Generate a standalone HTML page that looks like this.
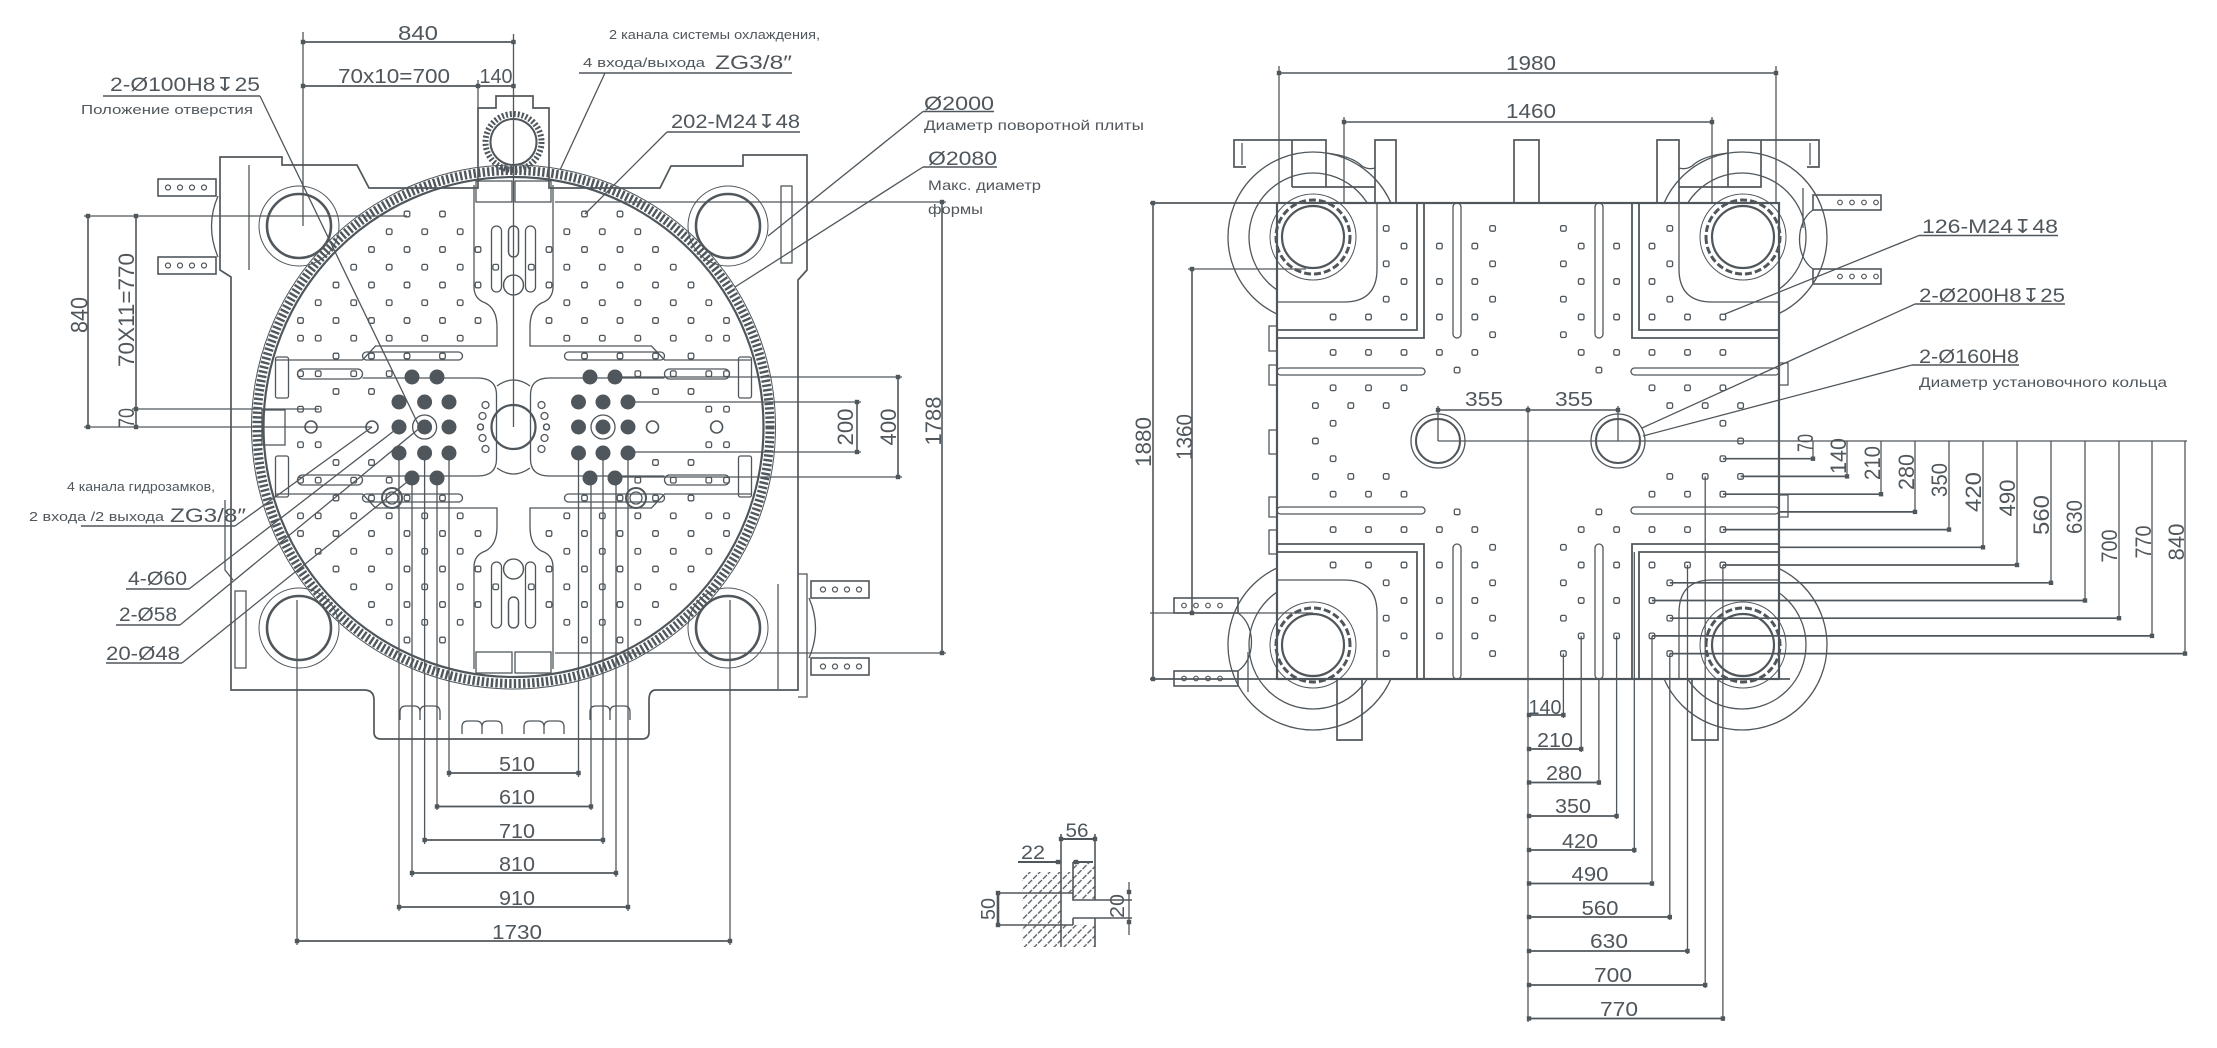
<!DOCTYPE html>
<html><head><meta charset="utf-8">
<style>
html,body{margin:0;padding:0;background:#fff;width:2217px;height:1048px;overflow:hidden}
svg{display:block}
text{fill:#50575c;stroke:none;font-family:"Liberation Sans","DejaVu Sans",sans-serif}
</style></head>
<body>
<svg width="2217" height="1048" viewBox="0 0 2217 1048">
<defs>
 <pattern id="hatch" width="7" height="7" patternUnits="userSpaceOnUse" patternTransform="rotate(45)">
  <line x1="1" y1="0" x2="1" y2="7" stroke="#50575c" stroke-width="1.3" stroke-dasharray="3 1.5"/>
 </pattern>
 <clipPath id="outR"><path clip-rule="evenodd" d="M1100,0H2217V1048H1100Z M1277,203H1779V679H1277Z"/></clipPath>
 <g id="qL">
  <path d="M-39.5,-242V-140Q-39.5,-128 -28,-124Q-16.5,-118 -16.5,-100V-81H-138L-151,-67H-238"/>
  <path d="M-151,-49H-36Q-17,-49 -17,-32V0"/>
  <rect x="-151" y="-75" width="100" height="8" rx="4"/>
  <rect x="-216" y="-58" width="65" height="10" rx="5"/>
  <rect x="-238" y="-70" width="13" height="41" rx="2"/>
  <rect x="-22" y="-201" width="10" height="66" rx="5"/>
  <rect x="-5" y="-201" width="10" height="31" rx="5"/>
  <rect x="-37.5" y="-246" width="36" height="21"/>
  <circle cx="0" cy="-142" r="10"/>
  <circle cx="-28" cy="-22" r="3.5"/><circle cx="-31" cy="-11" r="3.5"/><circle cx="-33" cy="0" r="3"/>
 </g>
 <g id="qR">
  <path d="M-111,-238V-111H-251M-104,-238V-103H-251" stroke-width="1.8"/>
  <path d="M-151,-238V-172Q-151,-139 -184,-139H-251"/>
  <rect x="-75" y="-238" width="8" height="135" rx="4"/>
  <rect x="-251" y="-73" width="148" height="7" rx="3.5"/>
  <circle cx="-215" cy="-204" r="31" stroke-width="2.2"/>
  <circle cx="-215" cy="-204" r="37" stroke-width="3" stroke-dasharray="7 3"/>
  <circle cx="-215" cy="-204" r="43" stroke-width="1"/>
 </g>
</defs>
<rect width="2217" height="1048" fill="#fff"/>

<g stroke="#50575c" fill="none" stroke-width="1.3">

<!-- ================= LEFT DRAWING ================= -->
<path stroke-width="1.7" d="M220,157H282V165H357L369,188H478V108H496V96H533V108H549V188H660L671,166H743V155H807V270L798,280V690H656Q649,690 649,700V732Q649,739 642,739H381Q374,739 374,732V700Q374,690 364,690H231V277L220,270Z"/>
<path d="M798,574H807V697H798 M218,196Q205,226 218,257 M809,598Q822,628 809,658"/>
<path d="M249,165V270M778,584V689M225,500V570L233,580"/>
<rect x="235" y="591" width="11" height="77"/><rect x="781" y="186" width="11" height="77"/>
<rect x="158" y="179" width="58" height="17" stroke-width="1.6"/>
<rect x="158" y="257" width="58" height="17" stroke-width="1.6"/>
<rect x="811" y="658" width="58" height="17" stroke-width="1.6"/>
<rect x="811" y="581" width="58" height="17" stroke-width="1.6"/>
<g stroke-width="1.2">
<circle cx="168" cy="187.5" r="2.5"/><circle cx="180" cy="187.5" r="2.5"/><circle cx="192" cy="187.5" r="2.5"/><circle cx="204" cy="187.5" r="2.5"/>
<circle cx="168" cy="265.5" r="2.5"/><circle cx="180" cy="265.5" r="2.5"/><circle cx="192" cy="265.5" r="2.5"/><circle cx="204" cy="265.5" r="2.5"/>
<circle cx="823" cy="666.5" r="2.5"/><circle cx="835" cy="666.5" r="2.5"/><circle cx="847" cy="666.5" r="2.5"/><circle cx="859" cy="666.5" r="2.5"/>
<circle cx="823" cy="589.5" r="2.5"/><circle cx="835" cy="589.5" r="2.5"/><circle cx="847" cy="589.5" r="2.5"/><circle cx="859" cy="589.5" r="2.5"/>
</g>
<!-- housing gear -->
<circle cx="513.5" cy="142" r="23" stroke-width="2"/>
<circle cx="513.5" cy="142" r="28" stroke-width="6" stroke-dasharray="2 2"/>
<!-- tie bars -->
<circle cx="299" cy="226" r="32" stroke-width="2.6"/><circle cx="299" cy="226" r="40" stroke-width="1"/>
<circle cx="728" cy="226" r="32" stroke-width="2.6"/><circle cx="728" cy="226" r="40" stroke-width="1"/>
<circle cx="299" cy="628" r="32" stroke-width="2.6"/><circle cx="299" cy="628" r="40" stroke-width="1"/>
<circle cx="728" cy="628" r="32" stroke-width="2.6"/><circle cx="728" cy="628" r="40" stroke-width="1"/>
<!-- plate -->
<circle cx="513.5" cy="427" r="250" stroke-width="2.2"/>
<circle cx="513.5" cy="427" r="256.5" stroke-width="9" stroke-dasharray="2.4 2.2"/>
<circle cx="513.5" cy="427" r="262" stroke-width="1"/>
<use href="#qL" transform="translate(513.5,427)"/>
<use href="#qL" transform="translate(513.5,427) scale(-1,1)"/>
<use href="#qL" transform="translate(513.5,427) scale(1,-1)"/>
<use href="#qL" transform="translate(513.5,427) scale(-1,-1)"/>
<circle cx="513.5" cy="427" r="22" stroke-width="2.2"/>
<path d="M497,386Q513.5,374 530,386M497,468Q513.5,480 530,468"/>
<rect x="262" y="410" width="23" height="35"/>
<circle cx="424.6" cy="427" r="12"/><circle cx="603" cy="427" r="12"/>
<circle cx="392" cy="498" r="10" stroke-width="2"/><circle cx="392" cy="498" r="6"/>
<circle cx="636" cy="498" r="10" stroke-width="2"/><circle cx="636" cy="498" r="6"/>
<circle cx="311" cy="427" r="6" stroke-width="1.6"/><circle cx="372" cy="427" r="6" stroke-width="1.6"/>
<circle cx="652.5" cy="427" r="6" stroke-width="1.6"/><circle cx="716.6" cy="427" r="6" stroke-width="1.6"/>
<!-- bottom tab symbols -->
<path d="M400,720v-8q0-6 6-6h8q6,0 6,6v8M420,720v-8q0-6 6-6h8q6,0 6,6v8 M462,734v-7q0-6 6-6h8q6,0 6,6v7M482,734v-7q0-6 6-6h8q6,0 6,6v7 M524,734v-7q0-6 6-6h8q6,0 6,6v7M544,734v-7q0-6 6-6h8q6,0 6,6v7 M590,720v-8q0-6 6-6h8q6,0 6,6v8M610,720v-8q0-6 6-6h8q6,0 6,6v8"/>

<!-- left dims -->
<path stroke-width="1.8" d="M303,42H513.5 M303,86H513.5"/>
<path d="M303,32V226 M513.5,34V427 M478,80V108"/>
<path stroke-width="1.6" d="M88,216V427 M136,216V427"/>
<path d="M84,216H407 M132,409H319 M84,427H372"/>
<path stroke-width="1.6" d="M942,202V653 M898,377V477 M857,402V452"/>
<path d="M555,202H946 M555,653H946 M615,377H902 M616,477H902 M628,402H861 M628,452H861"/>
<path stroke-width="1.8" d="M449,773H578.5 M437,806.5H591 M424.6,840H603 M412,873H616 M399,907H628 M297,941H730"/>
<path d="M449,453V777 M578.5,453V777 M437,478V810 M591,478V810 M424.6,453V844 M603,453V844 M412,478V877 M616,478V877 M399,453V911 M628,453V911 M297,600V945 M730,600V945"/>
<!-- left label underlines & leaders -->
<path stroke-width="1.6" d="M103,96H260 M579,73H792 M667,132H800 M923,111.5H994 M923,167H997 M81,526H235 M126,589H189 M116,625H180 M106,663H182"/>
<path d="M260,96L419,426 M605,73L560,170 M667,132L585,214 M923,111.5L768,236 M923,167L735,287 M235,526L372,427 M189,589L399,427 M180,625L421,427 M182,663L412,478"/>

<!-- section detail -->
<rect x="1022" y="872" width="39" height="75" fill="url(#hatch)" stroke="none"/>
<rect x="1061" y="872" width="12" height="21" fill="url(#hatch)" stroke="none"/>
<rect x="1073" y="862" width="22" height="38" fill="url(#hatch)" stroke="none"/>
<rect x="1061" y="925" width="34" height="22" fill="url(#hatch)" stroke="none"/>
<path stroke-width="2" d="M1061,839H1095 M1018,862H1061 M1073,862H1093"/>
<path stroke-width="1.6" d="M1061,834V947 M1095,834V900 M1095,918V947 M1073,862V900H1132 M1073,918H1132 M1073,918V925 M997,893H1073 M997,925H1073"/>
<path stroke-width="2.6" d="M998,893V925"/>
<path d="M1129,882V935"/>

<!-- ================= RIGHT DRAWING ================= -->
<g clip-path="url(#outR)">
 <circle cx="1313" cy="237" r="85"/><circle cx="1313" cy="237" r="64"/>
 <circle cx="1742" cy="237" r="85"/><circle cx="1742" cy="237" r="64"/>
 <circle cx="1313" cy="645" r="85"/><circle cx="1313" cy="645" r="64"/>
 <circle cx="1742" cy="645" r="85"/><circle cx="1742" cy="645" r="64"/>
</g>
<rect x="1277" y="203" width="502" height="476" stroke-width="2.2"/>
<path stroke-width="1.8" d="M1150,203H1277 M1150,679H1277 M1779,679H1790"/>
<use href="#qR" transform="translate(1528,441)"/>
<use href="#qR" transform="translate(1528,441) scale(-1,1)"/>
<use href="#qR" transform="translate(1528,441) scale(1,-1)"/>
<use href="#qR" transform="translate(1528,441) scale(-1,-1)"/>
<!-- top posts / ears -->
<path stroke-width="1.7" d="M1292,187V140H1234V167H1246 M1292,187H1326V140H1292 M1326,187H1375 M1375,203V140H1396V203 M1514,203V140H1539V203 M1657,203V140H1679V203 M1679,187H1728 M1728,187V140H1761V187H1728 M1761,140H1819V167H1807"/>
<path d="M1242,143V165 M1810,143V165 M1326,153Q1352,156 1362,166Q1368,170 1375,168 M1728,153Q1702,156 1692,166Q1686,170 1679,168"/>
<path stroke-width="1.7" d="M1337,679V740H1362V679 M1692,679V740H1718V679"/>
<!-- side boxes -->
<rect x="1813" y="195" width="68" height="15" stroke-width="1.6"/>
<rect x="1813" y="269" width="68" height="15" stroke-width="1.6"/>
<rect x="1174" y="598" width="64" height="15" stroke-width="1.6"/>
<rect x="1174" y="671" width="64" height="15" stroke-width="1.6"/>
<path d="M1813,210C1795,222 1795,257 1813,269 M1238,613C1256,625 1256,659 1238,671 M1803,188V228 M1248,652V692"/>
<g stroke-width="1.2">
<circle cx="1840" cy="202.5" r="2.3"/><circle cx="1852" cy="202.5" r="2.3"/><circle cx="1864" cy="202.5" r="2.3"/><circle cx="1876" cy="202.5" r="2.3"/>
<circle cx="1840" cy="276.5" r="2.3"/><circle cx="1852" cy="276.5" r="2.3"/><circle cx="1864" cy="276.5" r="2.3"/><circle cx="1876" cy="276.5" r="2.3"/>
<circle cx="1184" cy="605.5" r="2.3"/><circle cx="1196" cy="605.5" r="2.3"/><circle cx="1208" cy="605.5" r="2.3"/><circle cx="1220" cy="605.5" r="2.3"/>
<circle cx="1184" cy="678.5" r="2.3"/><circle cx="1196" cy="678.5" r="2.3"/><circle cx="1208" cy="678.5" r="2.3"/><circle cx="1220" cy="678.5" r="2.3"/>
</g>
<path d="M1269,326h8v25h-8z M1269,365h8v20h-8z M1269,430h8v24h-8z M1269,497h8v20h-8z M1269,530h8v24h-8z M1779,363h9v22h-9z M1779,495h9v22h-9z"/>
<!-- center holes -->
<circle cx="1438" cy="441" r="22" stroke-width="2"/><circle cx="1438" cy="441" r="27"/>
<circle cx="1618" cy="441" r="22" stroke-width="2"/><circle cx="1618" cy="441" r="27"/>
<path stroke-width="1.6" d="M1438,410H1618"/>
<path d="M1438,406V441 M1618,406V441 M1438,441H2187 M1528,406V1022"/>
<!-- right left dims -->
<path stroke-width="1.6" d="M1153,203V679 M1192,269V613 M1279,73H1776 M1344,122H1712"/>
<path d="M1188,269H1306 M1150,613H1313 M1279,66V203 M1776,66V203 M1344,117V203 M1712,117V203"/>
<!-- right vertical dims -->
<path d="M1813,441V458.7 M1847,441V476.4 M1881,441V494.2 M1915,441V511.9 M1949,441V529.6 M1983,441V547.3 M2017,441V565 M2051,441V582.8 M2085,441V600.5 M2119,441V618.2 M2152,441V635.9 M2185,441V653.6"/>
<path stroke-width="1.7" d="M1723,458.7H1813 M1740.6,476.4H1847 M1723,494.2H1881 M1779,511.9H1915 M1723,529.6H1949 M1779,547.3H1983 M1723,565H2017 M1669.8,582.8H2051 M1652,600.5H2085 M1669.8,618.2H2119 M1652,635.9H2152 M1669.8,653.6H2185"/>
<!-- bottom dims -->
<path stroke-width="1.8" d="M1529,715H1563.4 M1529,749H1581.2 M1529,782.5H1598.9 M1529,816H1616.6 M1529,850H1634.3 M1529,883.5H1652 M1529,917H1669.8 M1529,951H1687.5 M1529,985H1705.2 M1529,1018.5H1722.9"/>
<path d="M1563.4,653.6V718 M1581.2,635.9V752 M1598.9,679V785 M1616.6,635.9V819 M1634.3,552V853 M1652,635.9V886 M1669.8,653.6V920 M1687.5,565V954 M1705.2,476.4V988 M1722.9,565V1021"/>
<!-- right labels -->
<path stroke-width="1.6" d="M1919,235.5H2058 M1915,304H2065 M1912,365H2019"/>
<path d="M1919,235.5L1725,314 M1915,304L1642,428 M1912,365L1643,436"/>

<g id="holes" stroke-width="1.3"></g>
<g id="ticks" fill="#50575c" stroke="none"></g>
</g>

<!-- dark holes -->
<g fill="#50575c">
<circle cx="412" cy="377" r="7.5"/><circle cx="437" cy="377" r="7.5"/>
<circle cx="399" cy="402" r="7.5"/><circle cx="424.6" cy="402" r="7.5"/><circle cx="449" cy="402" r="7.5"/>
<circle cx="399" cy="427" r="7.5"/><circle cx="424.6" cy="427" r="7.5"/><circle cx="449" cy="427" r="7.5"/>
<circle cx="399" cy="453" r="7.5"/><circle cx="424.6" cy="453" r="7.5"/><circle cx="449" cy="453" r="7.5"/>
<circle cx="412" cy="478" r="7.5"/><circle cx="437" cy="478" r="7.5"/>
<circle cx="590" cy="377" r="7.5"/><circle cx="615" cy="377" r="7.5"/>
<circle cx="578.5" cy="402" r="7.5"/><circle cx="603" cy="402" r="7.5"/><circle cx="628" cy="402" r="7.5"/>
<circle cx="578.5" cy="427" r="7.5"/><circle cx="603" cy="427" r="7.5"/><circle cx="628" cy="427" r="7.5"/>
<circle cx="578.5" cy="453" r="7.5"/><circle cx="603" cy="453" r="7.5"/><circle cx="628" cy="453" r="7.5"/>
<circle cx="590" cy="478" r="7.5"/><circle cx="615" cy="478" r="7.5"/>
</g>

<!-- ============ TEXT ============ -->
<g>
<text x="418" y="40" font-size="20" text-anchor="middle" textLength="40" lengthAdjust="spacingAndGlyphs">840</text>
<text x="394" y="83" font-size="20" text-anchor="middle" textLength="112" lengthAdjust="spacingAndGlyphs">70x10=700</text>
<text x="496" y="83" font-size="20" text-anchor="middle" textLength="33" lengthAdjust="spacingAndGlyphs">140</text>
<text x="609" y="39" font-size="13" textLength="211" lengthAdjust="spacingAndGlyphs">2 канала системы охлаждения,</text>
<text x="583" y="67" font-size="13" textLength="122" lengthAdjust="spacingAndGlyphs">4 входа/выхода</text>
<text x="715" y="69" font-size="19" textLength="77" lengthAdjust="spacingAndGlyphs">ZG3/8″</text>
<text x="110" y="91" font-size="19" textLength="150" lengthAdjust="spacingAndGlyphs">2-Ø100H8↧25</text>
<text x="81" y="114" font-size="13" textLength="172" lengthAdjust="spacingAndGlyphs">Положение отверстия</text>
<text x="671" y="128" font-size="19" textLength="129" lengthAdjust="spacingAndGlyphs">202-M24↧48</text>
<text x="924" y="110" font-size="19" textLength="70" lengthAdjust="spacingAndGlyphs">Ø2000</text>
<text x="924" y="130" font-size="14" textLength="220" lengthAdjust="spacingAndGlyphs">Диаметр поворотной плиты</text>
<text x="928" y="165" font-size="19" textLength="69" lengthAdjust="spacingAndGlyphs">Ø2080</text>
<text x="928" y="190" font-size="14" textLength="113" lengthAdjust="spacingAndGlyphs">Макс. диаметр</text>
<text x="928" y="214" font-size="14" textLength="55" lengthAdjust="spacingAndGlyphs">формы</text>

<text transform="translate(87.6,315) rotate(-90)" font-size="24" text-anchor="middle" textLength="36" lengthAdjust="spacingAndGlyphs">840</text>
<text transform="translate(134,310) rotate(-90)" font-size="22" text-anchor="middle" textLength="114" lengthAdjust="spacingAndGlyphs">70X11=770</text>
<text transform="translate(134,418) rotate(-90)" font-size="22" text-anchor="middle" textLength="20" lengthAdjust="spacingAndGlyphs">70</text>
<text transform="translate(853,427) rotate(-90)" font-size="22" text-anchor="middle" textLength="37" lengthAdjust="spacingAndGlyphs">200</text>
<text transform="translate(896,427) rotate(-90)" font-size="22" text-anchor="middle" textLength="37" lengthAdjust="spacingAndGlyphs">400</text>
<text transform="translate(941,421) rotate(-90)" font-size="22" text-anchor="middle" textLength="49" lengthAdjust="spacingAndGlyphs">1788</text>

<text x="67" y="491" font-size="13" textLength="148" lengthAdjust="spacingAndGlyphs">4 канала гидрозамков,</text>
<text x="29" y="521" font-size="13" textLength="135" lengthAdjust="spacingAndGlyphs">2 входа /2 выхода</text>
<text x="170" y="522" font-size="19" textLength="76" lengthAdjust="spacingAndGlyphs">ZG3/8″</text>
<text x="128" y="585" font-size="19" textLength="59" lengthAdjust="spacingAndGlyphs">4-Ø60</text>
<text x="119" y="621" font-size="19" textLength="58" lengthAdjust="spacingAndGlyphs">2-Ø58</text>
<text x="106" y="660" font-size="19" textLength="74" lengthAdjust="spacingAndGlyphs">20-Ø48</text>

<text x="517" y="771" font-size="20" text-anchor="middle" textLength="36" lengthAdjust="spacingAndGlyphs">510</text>
<text x="517" y="804" font-size="20" text-anchor="middle" textLength="36" lengthAdjust="spacingAndGlyphs">610</text>
<text x="517" y="838" font-size="20" text-anchor="middle" textLength="36" lengthAdjust="spacingAndGlyphs">710</text>
<text x="517" y="871" font-size="20" text-anchor="middle" textLength="36" lengthAdjust="spacingAndGlyphs">810</text>
<text x="517" y="905" font-size="20" text-anchor="middle" textLength="36" lengthAdjust="spacingAndGlyphs">910</text>
<text x="517" y="939" font-size="20" text-anchor="middle" textLength="50" lengthAdjust="spacingAndGlyphs">1730</text>

<text x="1077" y="837" font-size="19" text-anchor="middle" textLength="23" lengthAdjust="spacingAndGlyphs">56</text>
<text x="1033" y="859" font-size="19" text-anchor="middle" textLength="24" lengthAdjust="spacingAndGlyphs">22</text>
<text transform="translate(995,909) rotate(-90)" font-size="20" text-anchor="middle" textLength="22" lengthAdjust="spacingAndGlyphs">50</text>
<text transform="translate(1124,906) rotate(-90)" font-size="20" text-anchor="middle" textLength="24" lengthAdjust="spacingAndGlyphs">20</text>

<text x="1531" y="70" font-size="20" text-anchor="middle" textLength="50" lengthAdjust="spacingAndGlyphs">1980</text>
<text x="1531" y="118" font-size="20" text-anchor="middle" textLength="50" lengthAdjust="spacingAndGlyphs">1460</text>
<text transform="translate(1151,442) rotate(-90)" font-size="22" text-anchor="middle" textLength="50" lengthAdjust="spacingAndGlyphs">1880</text>
<text transform="translate(1192,437) rotate(-90)" font-size="22" text-anchor="middle" textLength="46" lengthAdjust="spacingAndGlyphs">1360</text>
<text x="1484" y="406" font-size="20" text-anchor="middle" textLength="38" lengthAdjust="spacingAndGlyphs">355</text>
<text x="1574" y="406" font-size="20" text-anchor="middle" textLength="38" lengthAdjust="spacingAndGlyphs">355</text>
<text x="1922" y="233" font-size="19" textLength="136" lengthAdjust="spacingAndGlyphs">126-M24↧48</text>
<text x="1919" y="302" font-size="19" textLength="146" lengthAdjust="spacingAndGlyphs">2-Ø200H8↧25</text>
<text x="1919" y="363" font-size="19" textLength="100" lengthAdjust="spacingAndGlyphs">2-Ø160H8</text>
<text x="1919" y="387" font-size="14" textLength="248" lengthAdjust="spacingAndGlyphs">Диаметр установочного кольца</text>

<text transform="translate(1813,443) rotate(-90)" font-size="22" text-anchor="middle" textLength="18" lengthAdjust="spacingAndGlyphs">70</text>
<text transform="translate(1846,456) rotate(-90)" font-size="22" text-anchor="middle" textLength="36" lengthAdjust="spacingAndGlyphs">140</text>
<text transform="translate(1880,463) rotate(-90)" font-size="22" text-anchor="middle" textLength="34" lengthAdjust="spacingAndGlyphs">210</text>
<text transform="translate(1914,472) rotate(-90)" font-size="22" text-anchor="middle" textLength="36" lengthAdjust="spacingAndGlyphs">280</text>
<text transform="translate(1947,480) rotate(-90)" font-size="22" text-anchor="middle" textLength="34" lengthAdjust="spacingAndGlyphs">350</text>
<text transform="translate(1981,492) rotate(-90)" font-size="22" text-anchor="middle" textLength="40" lengthAdjust="spacingAndGlyphs">420</text>
<text transform="translate(2015,498) rotate(-90)" font-size="22" text-anchor="middle" textLength="37" lengthAdjust="spacingAndGlyphs">490</text>
<text transform="translate(2049,515) rotate(-90)" font-size="22" text-anchor="middle" textLength="40" lengthAdjust="spacingAndGlyphs">560</text>
<text transform="translate(2082,517) rotate(-90)" font-size="22" text-anchor="middle" textLength="34" lengthAdjust="spacingAndGlyphs">630</text>
<text transform="translate(2117,546) rotate(-90)" font-size="22" text-anchor="middle" textLength="33" lengthAdjust="spacingAndGlyphs">700</text>
<text transform="translate(2151,542) rotate(-90)" font-size="22" text-anchor="middle" textLength="33" lengthAdjust="spacingAndGlyphs">770</text>
<text transform="translate(2184,542) rotate(-90)" font-size="22" text-anchor="middle" textLength="37" lengthAdjust="spacingAndGlyphs">840</text>

<text x="1545" y="714" font-size="20" text-anchor="middle" textLength="33" lengthAdjust="spacingAndGlyphs">140</text>
<text x="1555" y="747" font-size="20" text-anchor="middle" textLength="36" lengthAdjust="spacingAndGlyphs">210</text>
<text x="1564" y="780" font-size="20" text-anchor="middle" textLength="36" lengthAdjust="spacingAndGlyphs">280</text>
<text x="1573" y="813" font-size="20" text-anchor="middle" textLength="36" lengthAdjust="spacingAndGlyphs">350</text>
<text x="1580" y="848" font-size="20" text-anchor="middle" textLength="36" lengthAdjust="spacingAndGlyphs">420</text>
<text x="1590" y="881" font-size="20" text-anchor="middle" textLength="37" lengthAdjust="spacingAndGlyphs">490</text>
<text x="1600" y="915" font-size="20" text-anchor="middle" textLength="37" lengthAdjust="spacingAndGlyphs">560</text>
<text x="1609" y="948" font-size="20" text-anchor="middle" textLength="38" lengthAdjust="spacingAndGlyphs">630</text>
<text x="1613" y="982" font-size="20" text-anchor="middle" textLength="38" lengthAdjust="spacingAndGlyphs">700</text>
<text x="1619" y="1016" font-size="20" text-anchor="middle" textLength="38" lengthAdjust="spacingAndGlyphs">770</text>
</g>
</svg>
<script>
(function(){
var s='';
function h(x,y){s+='<rect x="'+(x-2.8).toFixed(1)+'" y="'+(y-2.8).toFixed(1)+'" width="5.6" height="5.6" rx="1.5"/>';}
function grid(cx,cy,st,rows){for(var k in rows){var J=+k,ys=J?[J,-J]:[0];for(var a=0;a<ys.length;a++){for(var b=0;b<rows[k].length;b++){var I=rows[k][b];h(cx+I*st,cy+ys[a]*st);if(I)h(cx-I*st,cy+ys[a]*st);}}}}
grid(1528,441,17.72,{0:[12],1:[11],2:[12,10,8],3:[11,9,7],4:[4],5:[11,9,7,5,3],6:[2],7:[11,9,7,5,3],8:[8,2],9:[7,5,3],10:[8,2],11:[7,5,3],12:[8,2]});
grid(513.5,427,17.75,{1:[12,11],2:[10,8],3:[12,11,9,7],4:[10,8,6,4],5:[12,11,9,7,5,3],6:[12,10,8,6,4,2],7:[11,9,7,5,3],8:[10,8,6,4,2],9:[9,7,5,3,1],10:[8,6,4,2],11:[7,5,3],12:[6,4]});
var g=document.getElementById('holes');if(g)g.innerHTML=s;
var P=[[303,42],[513.5,42],[303,86],[478,86],[513.5,86],[88,216],[88,427],[136,216],[136,409],[136,427],[942,202],[942,653],[898,377],[898,477],[857,402],[857,452],[449,773],[578.5,773],[437,806.5],[591,806.5],[424.6,840],[603,840],[412,873],[616,873],[399,907],[628,907],[297,941],[730,941],[1061,839],[1095,839],[1058,862],[1076,862],[998,893],[998,925],[1129,892],[1129,922],[1279,73],[1776,73],[1344,122],[1712,122],[1153,203],[1153,679],[1192,269],[1192,613],[1438,410],[1528,410],[1618,410]];
var xs=[1813,1847,1881,1915,1949,1983,2017,2051,2085,2119,2152,2185];
for(var k=0;k<12;k++){P.push([xs[k],441+17.72*(k+1)]);}
var yb=[715,749,782.5,816,850,883.5,917,951,985,1018.5];
for(var k=0;k<10;k++){P.push([1529,yb[k]]);P.push([1528+17.72*(k+2),yb[k]]);}
var t='';for(var i=0;i<P.length;i++){t+='<rect x="'+(P[i][0]-2.2).toFixed(1)+'" y="'+(P[i][1]-2.2).toFixed(1)+'" width="4.4" height="4.4"/>';}
var tg=document.getElementById('ticks');if(tg)tg.innerHTML=t;
})();
</script>
</body></html>
